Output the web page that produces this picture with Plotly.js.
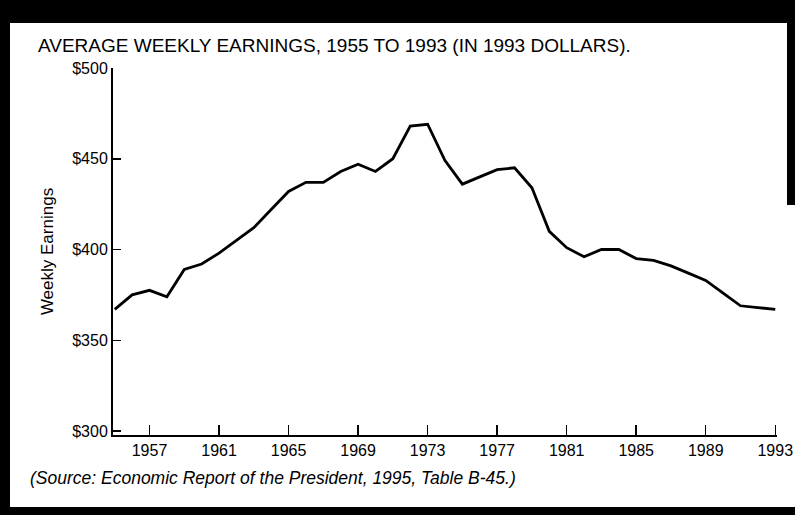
<!DOCTYPE html>
<html>
<head>
<meta charset="utf-8">
<script src="https://cdn.plot.ly/plotly-3.0.1.min.js"></script>
<style>
  html, body { margin: 0; padding: 0; background: #000; width: 795px; height: 515px; overflow: hidden; }
  #frame { position: absolute; left: 10px; top: 23px; width: 777px; height: 484px; background: #fff; }
  #frame2 { position: absolute; left: 787px; top: 205px; width: 8px; height: 302px; background: #fff; }
  #chart { position: absolute; left: 0; top: 0; width: 795px; height: 515px; }
</style>
</head>
<body>
<div id="frame"></div>
<div id="frame2"></div>
<div id="chart"></div>
<script>
const years = [1955,1956,1957,1958,1959,1960,1961,1962,1963,1964,1965,1966,1967,1968,1969,1970,1971,1972,1973,1974,1975,1976,1977,1978,1979,1980,1981,1982,1983,1984,1985,1986,1987,1988,1989,1990,1991,1992,1993];
const earnings = [367,375,377.5,374,389,392,398,405,412,422,432,437,437,443,447,443,450,468,469,449,436,440,444,445,434,410,401,396,400,400,395,394,391,387,383,376,369,368,367];
const yTicks = [300,350,400,450,500];
const yTickLabels = ["$300","$350","$400","$450","$500"];
const xTicks = [1957,1961,1965,1969,1973,1977,1981,1985,1989,1993];
const xTickLabels = ["1957","1961","1965","1969","1973","1977","1981","1985","1989","1993"];
const titleText = "AVERAGE WEEKLY EARNINGS, 1955 TO 1993 (IN 1993 DOLLARS).";
const yTitle = "Weekly Earnings";
const sourceText = "(Source: Economic Report of the President, 1995, Table B-45.)";

const font = "Liberation Sans, Arial, Helvetica, sans-serif";

Plotly.newPlot('chart', [{
  x: years, y: earnings, type: 'scatter', mode: 'lines',
  line: {color: '#000', width: 2.8},
  hoverinfo: 'skip'
}], {
  width: 795, height: 515,
  margin: {l: 113, r: 18, t: 68, b: 80},
  paper_bgcolor: 'rgba(0,0,0,0)',
  plot_bgcolor: 'rgba(0,0,0,0)',
  showlegend: false,
  font: {family: font, color: '#000'},
  title: {
    text: titleText,
    font: {family: font, size: 19, color: '#000'},
    xref: 'container', x: 38/795, xanchor: 'left',
    yref: 'container', y: 1 - 45/515, yanchor: 'middle'
  },
  xaxis: {
    range: [1954.9, 1993.1],
    tickmode: 'array', tickvals: xTicks, ticktext: xTickLabels,
    ticks: 'inside', ticklen: 10, tickwidth: 1.5, tickcolor: '#000',
    showline: true, linecolor: '#000', linewidth: 1.5,
    showgrid: false, zeroline: false,
    ticklabeloverflow: 'allow',
    tickfont: {family: font, size: 16, color: '#000'}
  },
  yaxis: {
    range: [297.8, 500],
    tickmode: 'array', tickvals: yTicks, ticktext: yTickLabels,
    ticks: 'inside', ticklen: 8, tickwidth: 1.5, tickcolor: '#000',
    showline: true, linecolor: '#000', linewidth: 2,
    showgrid: false, zeroline: false,
    tickfont: {family: font, size: 16, color: '#000'},
    title: {text: yTitle, font: {family: font, size: 17, color: '#000'}, standoff: 14}
  },
  annotations: [{
    text: sourceText, showarrow: false,
    xref: 'paper', x: (28 - 113) / 664, xanchor: 'left',
    yref: 'paper', y: (435 - 478) / 367, yanchor: 'middle',
    font: {family: font, size: 17.5, color: '#000', style: 'italic'}
  }]
}, {staticPlot: true, displayModeBar: false});
</script>
</body>
</html>
